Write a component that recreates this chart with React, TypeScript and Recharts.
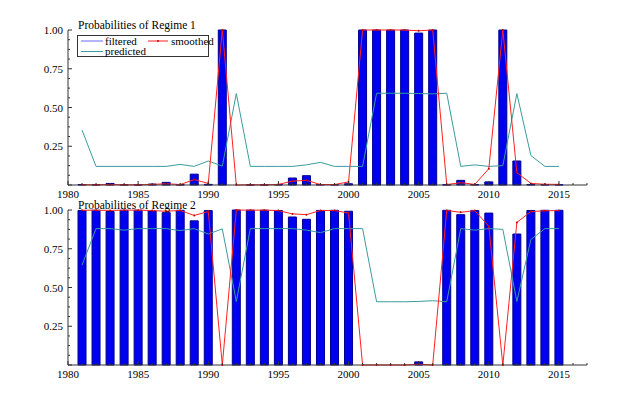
import React from "react";
import { ComposedChart, Bar, Line, XAxis, YAxis } from "recharts";

const years = [1981,1982,1983,1984,1985,1986,1987,1988,1989,1990,1991,1992,1993,1994,1995,1996,1997,1998,1999,2000,2001,2002,2003,2004,2005,2006,2007,2008,2009,2010,2011,2012,2013,2014,2015];

const filtered1 = [0.003,0.002,0.01,0.002,0.001,0.006,0.017,0.002,0.07,0.004,1.0,0.0,0.001,0.001,0.003,0.045,0.06,0.003,0.002,0.008,1.0,1.0,1.0,1.0,0.98,1.0,0.002,0.03,0.003,0.02,1.0,0.155,0.003,0.002,0.002];
const smoothed1 = [0.002,0.001,0.003,0.001,0.001,0.004,0.008,0.003,0.035,0.01,1.0,0.0,0.001,0.001,0.004,0.025,0.03,0.003,0.003,0.02,1.0,1.0,1.0,1.0,0.995,1.0,0.003,0.015,0.004,0.105,1.0,0.08,0.01,0.005,0.004];
const predicted1 = [0.355,0.12,0.12,0.12,0.12,0.12,0.12,0.133,0.12,0.155,0.122,0.59,0.12,0.12,0.12,0.12,0.13,0.146,0.12,0.12,0.12,0.592,0.592,0.592,0.59,0.588,0.592,0.12,0.13,0.12,0.125,0.59,0.19,0.12,0.12];

const filtered2 = [0.997,0.998,0.99,0.998,0.999,0.994,0.983,0.998,0.93,0.996,0.0,1.0,0.999,0.999,0.997,0.955,0.94,0.997,0.998,0.992,0.0,0.0,0.0,0.0,0.02,0.0,0.998,0.97,0.997,0.98,0.0,0.845,0.997,0.998,0.998];
const smoothed2 = [0.998,0.999,0.997,0.999,0.999,0.996,0.992,0.997,0.965,0.99,0.0,1.0,0.999,0.999,0.996,0.975,0.97,0.997,0.997,0.98,0.0,0.0,0.0,0.0,0.005,0.0,0.997,0.985,0.996,0.895,0.0,0.92,0.99,0.995,0.996];
const predicted2 = [0.645,0.88,0.88,0.87,0.88,0.88,0.88,0.867,0.88,0.845,0.878,0.41,0.88,0.88,0.88,0.88,0.87,0.854,0.88,0.88,0.88,0.408,0.408,0.408,0.41,0.415,0.408,0.88,0.87,0.88,0.875,0.41,0.81,0.88,0.88];

const xTicks = [1980,1981,1982,1983,1984,1985,1986,1987,1988,1989,1990,1991,1992,1993,1994,1995,1996,1997,1998,1999,2000,2001,2002,2003,2004,2005,2006,2007,2008,2009,2010,2011,2012,2013,2014,2015,2016,2017];
const xLabels = [1980,1985,1990,1995,2000,2005,2010,2015];
const yTicks = [0,0.0625,0.125,0.1875,0.25,0.3125,0.375,0.4375,0.5,0.5625,0.625,0.6875,0.75,0.8125,0.875,0.9375,1];
const yLabels = [0.25,0.5,0.75,1];

const titles = ["Probabilities of Regime 1", "Probabilities of Regime 2"];
const legendNames = ["filtered", "smoothed", "predicted"];

const FONT = '"Liberation Serif", "Times New Roman", serif';
const AXIS = "#333333";
const BAR_FILL = "#0000f0";
const BAR_STROKE = "#000090";
const RED = "#ff2020";
const TEAL = "#3a9c9c";
const BLUE_LINE = "#6b6bff";

const data1 = years.map((y, i) => ({ year: y, f: filtered1[i], s: smoothed1[i], p: predicted1[i] }));
const data2 = years.map((y, i) => ({ year: y, f: filtered2[i], s: smoothed2[i], p: predicted2[i] }));

const XTick = (props: any) => {
  const { x, y, payload } = props;
  const v = payload.value;
  const major = xLabels.includes(v);
  return (
    <g>
      <line x1={x} x2={x} y1={y} y2={y - (major ? 4 : 2)} stroke={AXIS} strokeWidth={1} />
      {major ? (
        <text x={x} y={y + 12.5} textAnchor="middle" fontFamily={FONT} fontSize={11} fill="#000">
          {v}
        </text>
      ) : null}
    </g>
  );
};

const YTick = (props: any) => {
  const { x, y, payload } = props;
  const v = payload.value;
  const major = Math.abs(v * 4 - Math.round(v * 4)) < 1e-6;
  const label = yLabels.find((l) => Math.abs(l - v) < 1e-6);
  return (
    <g>
      <line x1={x} x2={x + (major ? 4 : 2)} y1={y} y2={y} stroke={AXIS} strokeWidth={1} />
      {label !== undefined ? (
        <text x={x - 5} y={y + 4} textAnchor="end" fontFamily={FONT} fontSize={11} fill="#000">
          {label.toFixed(2)}
        </text>
      ) : null}
    </g>
  );
};

const Panel = ({ data, top }: { data: any[]; top: number }) => (
  <div style={{ position: "absolute", left: 0, top }}>
    <ComposedChart width={617} height={205} data={data} margin={{ top: 30, right: 30, left: 0, bottom: 0 }}>
      <XAxis
        type="number"
        dataKey="year"
        domain={[1980, 2017]}
        ticks={xTicks}
        interval={0}
        allowDataOverflow
        height={20}
        tickSize={0}
        tickMargin={0}
        tickLine={false}
        tick={<XTick />}
        axisLine={{ stroke: AXIS }}
      />
      <YAxis
        type="number"
        domain={[0, 1]}
        ticks={yTicks}
        interval={0}
        width={68}
        tickSize={0}
        tickMargin={0}
        tickLine={false}
        tick={<YTick />}
        axisLine={{ stroke: AXIS }}
      />
      <Bar dataKey="f" barSize={8} fill={BAR_FILL} stroke={BAR_STROKE} strokeWidth={1} isAnimationActive={false} />
      <Line type="linear" dataKey="p" stroke={TEAL} strokeWidth={1} dot={false} isAnimationActive={false} />
      <Line type="linear" dataKey="s" stroke={RED} strokeWidth={1} dot={{ r: 1, fill: "#cc0000", stroke: "none" }} isAnimationActive={false} />
    </ComposedChart>
  </div>
);

const Overlay = () => (
  <svg width={617} height={395} style={{ position: "absolute", left: 0, top: 0, pointerEvents: "none" }}>
    <text x={78} y={29} fontFamily={FONT} fontSize={11.5} fill="#000">{titles[0]}</text>
    <text x={78} y={208.5} fontFamily={FONT} fontSize={11.5} fill="#000">{titles[1]}</text>
    <rect x={77.5} y={35.5} width={131} height={21} fill="#fff" stroke={AXIS} strokeWidth={1} />
    <line x1={81} x2={103} y1={41} y2={41} stroke={BLUE_LINE} strokeWidth={1} />
    <text x={105} y={44.5} fontFamily={FONT} fontSize={11} fill="#000">{legendNames[0]}</text>
    <line x1={148} x2={168} y1={41} y2={41} stroke={RED} strokeWidth={1} />
    <circle cx={158} cy={41} r={1} fill="#cc0000" />
    <text x={171} y={44.5} fontFamily={FONT} fontSize={11} fill="#000">{legendNames[1]}</text>
    <line x1={81} x2={103} y1={51.5} y2={51.5} stroke={TEAL} strokeWidth={1} />
    <text x={105} y={55} fontFamily={FONT} fontSize={11} fill="#000">{legendNames[2]}</text>
  </svg>
);

export default function App() {
  return (
    <div style={{ position: "absolute", left: 0, top: 0, width: 617, height: 395, background: "#fff" }}>
      <Panel data={data1} top={0} />
      <Panel data={data2} top={180} />
      <Overlay />
    </div>
  );
}
